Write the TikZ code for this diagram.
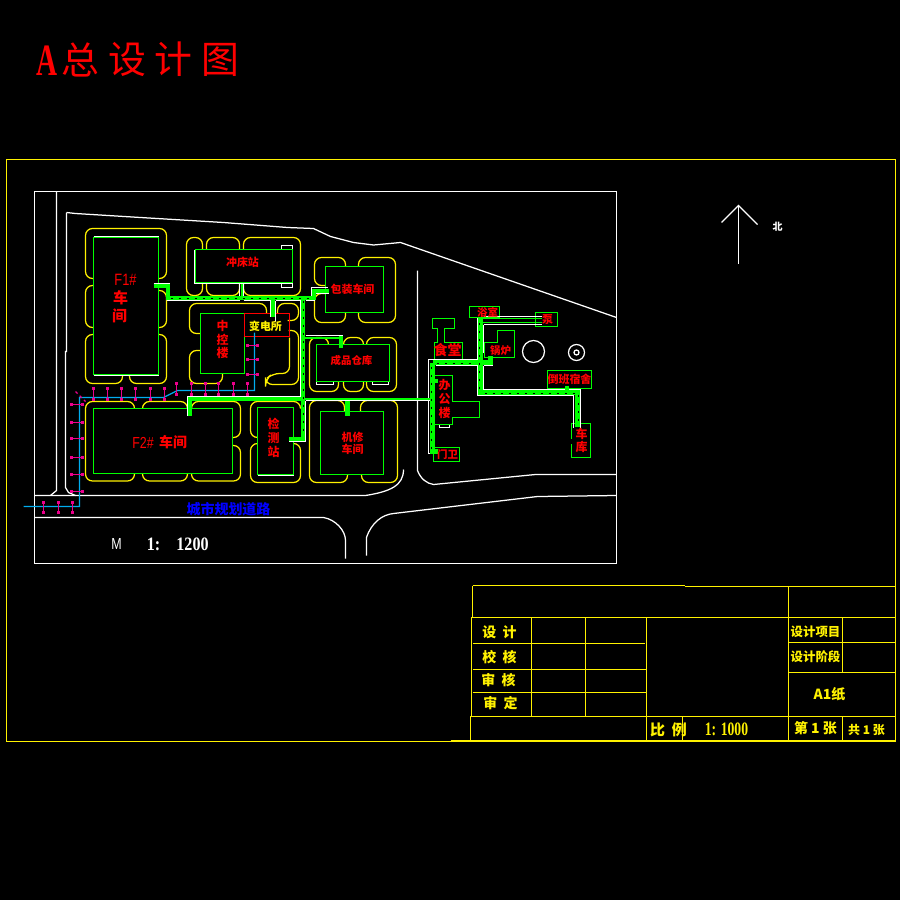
\documentclass[tikz,border=0pt]{standalone}
\usepackage{fontspec}
\setmainfont{Noto Sans CJK SC}
\newfontfamily\titleserif[FakeStretch=0.65]{Liberation Serif}
\newfontfamily\numserif[FakeStretch=0.85]{Liberation Serif}
\newfontfamily\ratioserif[FakeStretch=0.72]{Liberation Serif}
\newfontfamily\thinsans[FakeStretch=0.78]{Liberation Sans}
\tikzset{
  wall/.style={white,line width=1.25bp},
  blob/.style={yellow,line width=1.25bp,rounded corners=7bp},
  house/.style={green,line width=1.25bp},
  frameline/.style={yellow,line width=1.25bp},
  pipe/.style={green,line width=4bp},
  pipedash/.style={black,line width=1bp,dash pattern=on 2.5bp off 5.5bp},
  lamp/.style={magenta,line width=1.25bp},
  lbl/.style={inner sep=0pt,text=red,align=center,font=\fontsize{#1}{#1}\selectfont\bfseries},
  lbl/.default=11,
  stack/.style={inner sep=0pt,text=red,align=center,font=\fontsize{12}{13.8}\selectfont\bfseries},
  tblk/.style={inner sep=0pt,text=yellow,font=\fontsize{#1}{#1}\selectfont\bfseries},
  tblk/.default=12
}
\begin{document}
\begin{tikzpicture}[x=1bp,y=-1bp]
  \useasboundingbox (0,0) rectangle (900,900);
  \fill[black] (0,0) rectangle (900,900);
  \begin{scope}[shift={(0.5,0.5)}]

  % sheet frame and site frame
  \draw[frameline] (6,159) rectangle (895,741);
  \draw[wall] (34,191) rectangle (616,563);

  % roads
  \draw[wall] (56,191) -- (56,490) -- (50,495);
  \draw[wall] (66,212) -- (66,351) -- (65,351) -- (65,487) -- (68,492) -- (75,495);
  \draw[wall] (66,212) -- (75,213) -- (140,217) -- (223,222) -- (287,227) -- (313,228)
     -- (330,236) -- (353,242) -- (373,244.5) -- (400,242) -- (616,317);
  \draw[wall] (34,495) -- (365,495) .. controls (390,491) and (403,485) .. (403,469);
  \draw[wall] (34,517) -- (323,517) .. controls (335,519) and (345,530) .. (345,540) -- (345,558);
  \draw[wall] (366,555) -- (366,537) .. controls (371,522) and (382,514) .. (393,513)
     -- (537,496) -- (616,495);
  \draw[wall] (417,270) -- (417,470) .. controls (420,478) and (426,483) .. (433,484)
     -- (535,474) -- (616,474);

  % yellow greens round the workshops
  \draw[blob] (93,278) -- (85,278) -- (85,228) -- (166,228) -- (166,278) -- (158,278);
  \draw[blob] (93,285) -- (85,285) -- (85,327) -- (93,327);
  \draw[blob] (158,290) -- (166,290) -- (166,327) -- (158,327);
  \draw[blob] (93,334) -- (85,334) -- (85,383) -- (122,383) -- (122,375);
  \draw[blob] (129,375) -- (129,383) -- (166,383) -- (166,334) -- (158,334);
  \draw[blob] (202,249) -- (202,237) -- (186,237) -- (186,295) -- (202,295) -- (202,283);
  \draw[blob] (206,249) -- (206,237) -- (239,237) -- (239,249);
  \draw[blob] (206,283) -- (206,295) -- (239,295) -- (239,283);
  \draw[blob] (243,249) -- (243,237) -- (300,237) -- (300,295) -- (243,295) -- (243,283);
  \draw[blob] (266,313) -- (266,303) -- (189,303) -- (189,333) -- (200,333);
  \draw[blob] (200,350) -- (189,350) -- (189,383) -- (222,383) -- (222,373);
  \draw[blob] (277,313) -- (277,303) -- (298,303) -- (298,320) -- (287,320);
  \draw[blob] (288,330) -- (298,330) -- (298,384) -- (265,384) -- (265,379) -- (272,373) -- (289,373) -- (289,337);
  \draw[blob] (345,266) -- (345,257) -- (314,257) -- (314,285) -- (325,285);
  \draw[blob] (325,293) -- (314,293) -- (314,322) -- (345,322) -- (345,312);
  \draw[blob] (358,266) -- (358,257) -- (395,257) -- (395,322) -- (358,322) -- (358,312);
  \draw[blob] (328,344) -- (328,337) -- (309,337) -- (309,391) -- (338,391) -- (338,381);
  \draw[blob] (343,344) -- (343,337) -- (363,337) -- (363,344);
  \draw[blob] (343,381) -- (343,391) -- (363,391) -- (363,381);
  \draw[blob] (366,344) -- (366,337) -- (396,337) -- (396,391) -- (366,391) -- (366,381);
  \draw[blob] (344,411) -- (344,400) -- (309,400) -- (309,482) -- (347,482) -- (347,474);
  \draw[blob] (360,411) -- (360,400) -- (397,400) -- (397,482) -- (361,482) -- (361,474);
  \draw[blob] (257,437) -- (250,437) -- (250,401) -- (300,401) -- (300,408);
  \draw[blob] (257,443) -- (250,443) -- (250,482) -- (300,482) -- (300,443) -- (293,443);
  \draw[blob] (134,408) -- (134,401) -- (85,401) -- (85,480.5) -- (134,480.5) -- (134,473);
  \draw[blob] (142,408) -- (142,401) -- (187,401) -- (187,408);
  \draw[blob] (142,473) -- (142,480.5) -- (187,480.5) -- (187,473);
  \draw[blob] (191,408) -- (191,401) -- (240,401) -- (240,437) -- (232,437);
  \draw[blob] (232,445) -- (240,445) -- (240,480.5) -- (191,480.5) -- (191,473);

  % small white bits at the buildings
  \draw[wall] (93,236) -- (158,236);
  \draw[wall] (93,375) -- (158,375);
  \draw[wall] (194,249) -- (194,283) -- (292,283);
  \draw[wall] (281,249) -- (281,245) -- (292,245) -- (292,249);
  \draw[wall] (281,283) -- (281,287) -- (292,287) -- (292,283);
  \draw[wall] (316,381) -- (316,384) -- (333,384) -- (333,381);
  \draw[wall] (372,381) -- (372,384) -- (388,384) -- (388,381);
  \draw[wall] (389,344) -- (389,381);
  \draw[wall] (439,424) -- (439,427) -- (449,427) -- (449,424);
  \draw[wall] (257,475) -- (293,475);

  % buildings
  \draw[house] (93,237) rectangle (158,374);
  \draw[house] (195,249) rectangle (292,282);
  \draw[house] (200,313) rectangle (244,373);
  \draw[house] (325,266) rectangle (383,312);
  \draw[house] (316,344) rectangle (389,381);
  \draw[house] (320,411) rectangle (383,474);
  \draw[house] (257,407) rectangle (293,474);
  \draw[house] (93,408) rectangle (232,473);
  \draw[house] (432,318) -- (454,318) -- (454,328) -- (444,328) -- (444,342) -- (462,342)
     -- (462,359) -- (434,359) -- (434,342) -- (437,342) -- (437,328) -- (432,328) -- cycle;
  \draw[house] (434,375) -- (452,375) -- (452,401) -- (479,401) -- (479,417) -- (452,417)
     -- (452,424) -- (434,424) -- cycle;
  \draw[house] (433,447) rectangle (459,461);
  \draw[house] (571,438) -- (571,423) -- (590,423) -- (590,457) -- (571,457) -- (571,443);
  \draw[house] (469,306) rectangle (499,317);
  \draw[house] (535,312) rectangle (557,326);
  \draw[house] (484,342) -- (497,342) -- (497,330) -- (514,330) -- (514,357) -- (484,357) -- cycle;
  \draw[house] (547,370) rectangle (591,388);
  \draw[red,line width=1.25bp] (244,313) rectangle (289,336);

  % circles
  \draw[wall] (533,351) circle[radius=11];
  \draw[wall] (576,352) circle[radius=8];
  \draw[wall] (576,352) circle[radius=2.5];

  % pipes, white edges first
  \draw[wall] (153,283) -- (169,283) -- (169,293);
  \draw[wall] (166,300) -- (239,300);
  \draw[wall] (243,300) -- (270,300);
  \draw[wall] (275,300) -- (300,300) -- (300,396);
  \draw[wall] (311,295) -- (311,287) -- (327,287);
  \draw[wall] (305,300) -- (314,300) -- (314,293) -- (328,293);
  \draw[wall] (305,335) -- (342,335) -- (342,347);
  \draw[wall] (305,400) -- (305,441) -- (288,441);
  \draw[wall] (187,415) -- (187,396) -- (300,396);
  \draw[wall] (305,400) -- (429,400);
  \draw[wall] (239,283) -- (239,296);
  \draw[wall] (243,283) -- (243,296);
  \draw[wall] (270,300) -- (270,316);
  \draw[wall] (275,300) -- (275,321);
  \draw[wall] (436,453) -- (428,453) -- (428,359) -- (477,359) -- (477,317);
  \draw[wall] (435,365) -- (477,365) -- (477,395) -- (573,395) -- (573,427);
  \draw[wall] (483,324) -- (541,324);
  \draw[wall] (483,316) -- (541,316);
  \draw[wall] (483,324) -- (483,352);
  \draw[wall] (483,365) -- (492,365) -- (492,355);
  \draw[wall] (483,365) -- (483,389) -- (580,389) -- (580,427);

  \draw[pipe] (153,285) -- (167,285) -- (167,297.5) -- (313,297.5) -- (313,290) -- (328,290);
  \draw[pipe] (302.5,297) -- (302.5,438) -- (288,438);
  \draw[pipe,line width=2bp] (304,337.5) -- (340,337.5);
  \draw[pipe] (340,335) -- (340,347);
  \draw[pipe] (189.5,415) -- (189.5,398.5) -- (300,398.5);
  \draw[pipe,line width=2bp] (300,398) -- (432,398);
  \draw[pipe,line width=2bp] (241,283) -- (241,297);
  \draw[pipe] (272.5,297) -- (272.5,316);
  \draw[pipe,line width=4.5bp] (347,400) -- (347,415);
  \draw[pipe,line width=5bp] (432,362) -- (432,451) -- (437,451);
  \draw[pipe,line width=5bp] (432,362) -- (490,362) -- (490,355);
  \draw[pipe,line width=5bp] (480,317) -- (480,391.5) -- (577,391.5) -- (577,426);
  \draw[pipe,line width=1bp] (481,318) -- (541,318);
  \draw[pipe,line width=1bp] (481,322) -- (541,322);
  \draw[pipe] (432,380) -- (437,380);
  \draw[pipe] (566,385) -- (566,391);
  \draw[pipe] (453,359) -- (453,362);

  \draw[pipedash] (170,298) -- (311,298);
  \draw[pipedash] (303,300) -- (303,436);
  \draw[pipedash] (431,366) -- (431,450);
  \draw[pipedash] (436,363) -- (476,363);
  \draw[pipedash] (479,322) -- (479,388);
  \draw[pipedash] (484,393) -- (574,393);
  \draw[pipedash] (578,394) -- (578,424);
  \draw[pipedash] (484,320) -- (541,320);

  % lighting line
  \draw[cyan,line width=1.25bp] (23,506) -- (79,506) -- (79,397) -- (163,397) -- (177,390)
     -- (254,390) -- (254,332);
  \foreach \lx in {93,107,121,135,150,164}{
    \draw[lamp] (\lx,388) -- (\lx,399);
    \fill[magenta] (\lx-1.5,386.5) rectangle (\lx+1.5,389.5);
    \fill[magenta] (\lx-1.5,397.5) rectangle (\lx+1.5,400.5);
  }
  \foreach \lx in {176,191,205,218,233,247}{
    \draw[lamp] (\lx,383) -- (\lx,394);
    \fill[magenta] (\lx-1.5,381.5) rectangle (\lx+1.5,384.5);
    \fill[magenta] (\lx-1.5,392.5) rectangle (\lx+1.5,395.5);
  }
  \foreach \lx in {43,58,72}{
    \draw[lamp] (\lx,502) -- (\lx,512);
    \fill[magenta] (\lx-1.5,500.5) rectangle (\lx+1.5,503.5);
    \fill[magenta] (\lx-1.5,510.5) rectangle (\lx+1.5,513.5);
  }
  \foreach \ly in {404,422,438,457,474,491}{
    \draw[lamp] (71,\ly) -- (82,\ly);
    \fill[magenta] (69.5,\ly-1.5) rectangle (72.5,\ly+1.5);
    \fill[magenta] (80.5,\ly-1.5) rectangle (83.5,\ly+1.5);
  }
  \foreach \ly in {345,359,374}{
    \draw[lamp] (247,\ly) -- (257,\ly);
    \fill[magenta] (245.5,\ly-1.5) rectangle (248.5,\ly+1.5);
    \fill[magenta] (255.5,\ly-1.5) rectangle (258.5,\ly+1.5);
  }
  \draw[lamp,dashed] (75,391) -- (85,401);

  % north arrow
  \coordinate (northtip) at (738,205);
  \draw[wall] (738,263) -- (northtip);
  \draw[wall] (721,222) -- (northtip) -- (757,224);
  \node[inner sep=0pt,text=white,font=\fontsize{10}{10}\selectfont\bfseries] (northlbl) at (777,226) {北};

  % title block
  \draw[frameline] (472,585) -- (684,585);
  \draw[frameline] (684,586) -- (895,586);
  \draw[frameline] (472,585) -- (472,617) -- (471,617) -- (471,716) -- (470,716) -- (470,741);
  \draw[frameline] (472,617) -- (895,617);
  \draw[frameline] (472,643) -- (644,643);
  \draw[frameline] (472,669) -- (646,669);
  \draw[frameline] (472,692) -- (646,692);
  \draw[frameline] (470,716) -- (895,716);
  \draw[frameline] (531,617) -- (531,716);
  \draw[frameline] (585,617) -- (585,716);
  \draw[frameline] (646,617) -- (646,741);
  \draw[frameline] (682,716) -- (682,741);
  \draw[frameline] (788,586) -- (788,741);
  \draw[frameline] (842,617) -- (842,672);
  \draw[frameline] (842,716) -- (842,741);
  \draw[frameline] (788,642) -- (895,642);
  \draw[frameline] (788,672) -- (895,672);
  \draw[frameline] (450,740) -- (895,740);

  \node[tblk=14] (tsheji) at (499,632) {设\ \ 计};
  \node[tblk=14] (tjiao) at (499,657) {校\ \ 核};
  \node[tblk=14] (tshen) at (498,680) {审\ \ 核};
  \node[tblk=14] (tding) at (500,703) {审\ \ 定};
  \node[tblk=15] (tbili) at (668,729) {比\ \ 例};
  \node[inner sep=0pt,text=yellow,font=\ratioserif\fontsize{19}{19}\selectfont\bfseries] (tratio) at (726,729) {1: 1000};
  \node[tblk=14] (tzhang) at (815,728) {第 1 张};
  \node[tblk=12] (tgong) at (866,729.5) {共 1 张};
  \node[tblk=12.5] (txiang) at (815,631) {设计项目};
  \node[tblk=12.5] (tjie) at (815,656) {设计阶段};
  \node[tblk=14] (tzhi) at (829,694) {A1纸};

  % drawing title
  \node[inner sep=0pt,text=red,font=\titleserif\fontsize{45}{45}\selectfont\bfseries] (titleA) at (47,60) {A};
  \foreach \tx/\tch/\tname in {80/总/titleb,127/设/titlec,173/计/titled,220/图/titlee}{
    \node[inner sep=0pt,text=red,font=\fontsize{38}{38}\selectfont] (\tname) at (\tx,59) {\tch};
  }

  % building names
  \node[inner sep=0pt,text=red,font=\thinsans\fontsize{16.5}{16.5}\selectfont] (fonehash) at (125,279) {F1\#};
  \node[lbl=15] (fonea) at (120,297) {车};
  \node[lbl=15] (foneb) at (119,315) {间};
  \node[inner sep=0pt,text=red,font=\thinsans\fontsize{16}{16}\selectfont] (ftwohash) at (142.5,442) {F2\#};
  \node[lbl=14] (ftwoname) at (172.5,442) {车间};
  \node[lbl=11] (chong) at (242,262) {冲床站};
  \node[lbl=11] (baozhuang) at (352,289) {包装车间};
  \node[lbl=10.5] (chengpin) at (351,360) {成品仓库};
  \node[lbl=11,text=yellow] (biandian) at (265,326) {变电所};
  \node[stack] (zhongkong) at (222,339) {中\\控\\楼};
  \node[stack] (jiance) at (273,437.5) {检\\测\\站};
  \node[lbl=11,font=\fontsize{11}{12.5}\selectfont\bfseries] (jixiu) at (352,443) {机修\\车间};
  \node[lbl=14,text=blue] (chengshi) at (228,509) {城市规划道路};
  \node[lbl=14] (shitang) at (447,350) {食堂};
  \node[stack] (bangong) at (444,398.5) {办\\公\\楼};
  \node[lbl=10.5] (menwei) at (447,454) {门卫};
  \node[lbl=12,font=\fontsize{12}{13}\selectfont\bfseries] (cheku) at (581,439.5) {车\\库};
  \node[lbl=10.5] (yushi) at (487,312) {浴室};
  \node[lbl=11] (beng) at (547,319) {泵};
  \node[lbl=10.5] (guolu) at (500,350) {锅炉};
  \node[lbl=11] (daoban) at (569,379) {倒班宿舍};

  % scale
  \node[inner sep=0pt,text=white,font=\thinsans\fontsize{16}{16}\selectfont] (scaleM) at (116,544) {M};
  \node[inner sep=0pt,text=white,font=\numserif\fontsize{19}{19}\selectfont\bfseries] (scaleone) at (153,544) {1:};
  \node[inner sep=0pt,text=white,font=\numserif\fontsize{19}{19}\selectfont\bfseries] (scalenum) at (192,544) {1200};
  \end{scope}
\end{tikzpicture}
\end{document}
